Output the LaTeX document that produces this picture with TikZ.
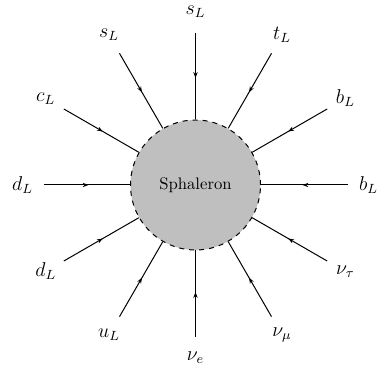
\documentclass[tikz,border=0pt]{standalone}
\usetikzlibrary{decorations.markings,arrows.meta,calc}
\begin{document}
\begin{tikzpicture}[x=0.6pt,y=0.6pt,
  leg/.style={semithick,postaction={decorate},
    decoration={markings,mark=at position 0.52 with {\arrow{Stealth[length=3.5pt,width=2.6pt]}}}},
  lbl/.style={font=\large},
  blob/.style={circle,draw,dashed,semithick,fill=gray!50,minimum size=130*0.6pt,inner sep=0pt}]
\useasboundingbox (0,0) rectangle (379,374);
\coordinate (c) at (195.5,189);
\node[blob] (S) at (c) {Sphaleron};
\foreach \ang/\txt/\nm in {0/b_L/a,30/b_L/b,60/t_L/t,90/s_L/s,120/s_L/r,150/c_L/q,180/d_L/p,210/d_L/o,240/u_L/n,270/\nu_e/m,300/\nu_\mu/l,330/\nu_\tau/k}{
  \coordinate (e\nm) at ($(c)+(\ang:152)$);
  \node[lbl] (l\nm) at ($(c)+(\ang:173)$) {$\txt$};
  \draw[leg] (e\nm) -- (S.\ang);
}
\end{tikzpicture}
\end{document}
